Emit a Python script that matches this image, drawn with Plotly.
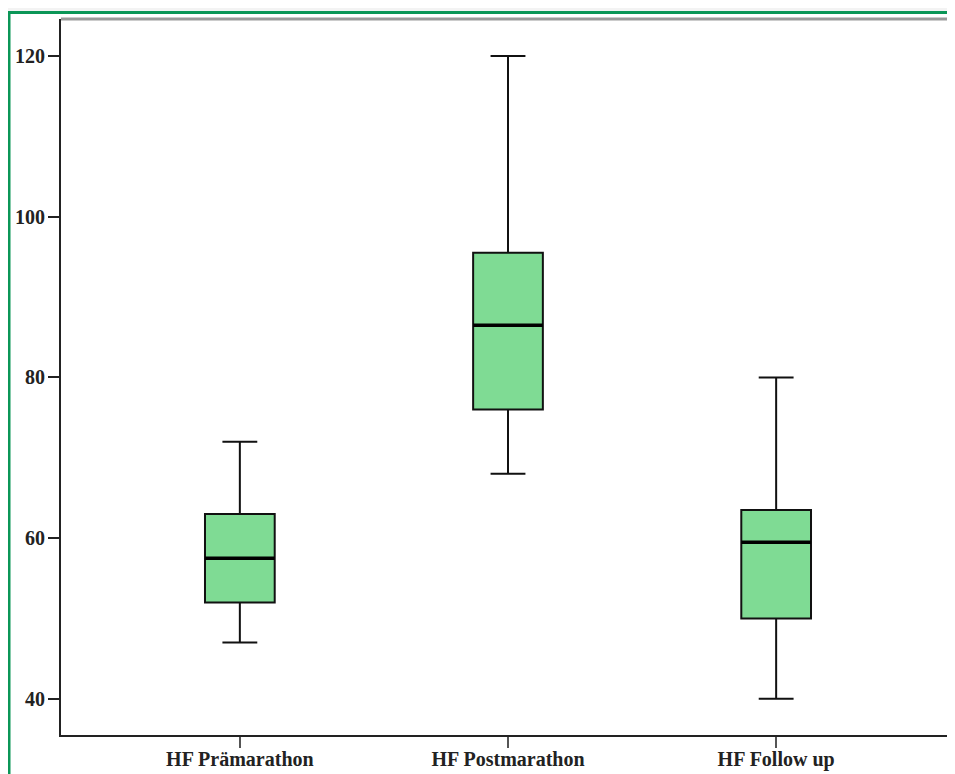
import plotly.graph_objects as go

categories = ["HF Prämarathon", "HF Postmarathon", "HF Follow up"]
lower_whisker = [47, 68, 40]
q1_values = [52, 76, 50]
median_values = [57.5, 86.5, 59.5]
q3_values = [63, 95.5, 63.5]
upper_whisker = [72, 120, 80]
y_ticks = [40, 60, 80, 100, 120]

# page has an 8px body margin, so the figure is laid out offset by 8px
OFF = 8
W, H = 955 - OFF, 774 - OFF
L, R, T, B = 61 - OFF, 0, 19 - OFF, 774 - 735
pw, ph = W - L - R, H - T - B

def px_x(px):
    return (px - OFF - L) / pw

def px_y(py):
    return (H - B - (py - OFF)) / ph

fig = go.Figure()
fig.add_trace(go.Box(
    x=categories, q1=q1_values, median=median_values, q3=q3_values,
    lowerfence=lower_whisker, upperfence=upper_whisker,
    fillcolor="#7fdb94", line=dict(color="#111111", width=2),
    width=0.26, whiskerwidth=0.5, boxpoints=False, showlegend=False,
))
# thicker median line overlay
fig.add_trace(go.Box(
    x=categories, q1=median_values, median=median_values, q3=median_values,
    lowerfence=median_values, upperfence=median_values,
    fillcolor="rgba(0,0,0,0)", line=dict(color="#000000", width=3.5),
    width=0.26, whiskerwidth=0, boxpoints=False, showlegend=False, hoverinfo="skip",
))

tick_font = dict(family="Liberation Serif", size=20, color="#222222", weight="bold")

fig.update_layout(
    width=W, height=H,
    margin=dict(l=L, r=R, t=T, b=B, pad=0),
    paper_bgcolor="#f3f3f3",
    plot_bgcolor="white",
    font=dict(family="Liberation Serif", size=20, color="#222222"),
    xaxis=dict(
        range=[-0.667, 2.667], showgrid=False, zeroline=False,
        showline=True, linecolor="#222222", linewidth=2,
        ticks="outside", ticklen=11, tickcolor="#555555", tickwidth=2,
        tickfont=tick_font, ticklabelstandoff=-6,
    ),
    yaxis=dict(
        range=[35.5, 124.6], tickvals=y_ticks, showgrid=False, zeroline=False,
        showline=True, linecolor="#222222", linewidth=2,
        ticks="outside", ticklen=11, tickcolor="#222222", tickwidth=2,
        tickfont=tick_font, ticklabelstandoff=-1,
    ),
    shapes=[
        dict(type="rect", xref="paper", yref="paper",
             x0=px_x(9), x1=px_x(1000), y0=px_y(12.5), y1=px_y(800),
             line=dict(color="#0b9657", width=3), fillcolor="white", layer="below"),
        dict(type="line", xref="paper", yref="paper",
             x0=0, x1=px_x(970), y0=1.0, y1=1.0,
             line=dict(color="#999999", width=3)),
    ],
)

fig.write_html("out.html")
